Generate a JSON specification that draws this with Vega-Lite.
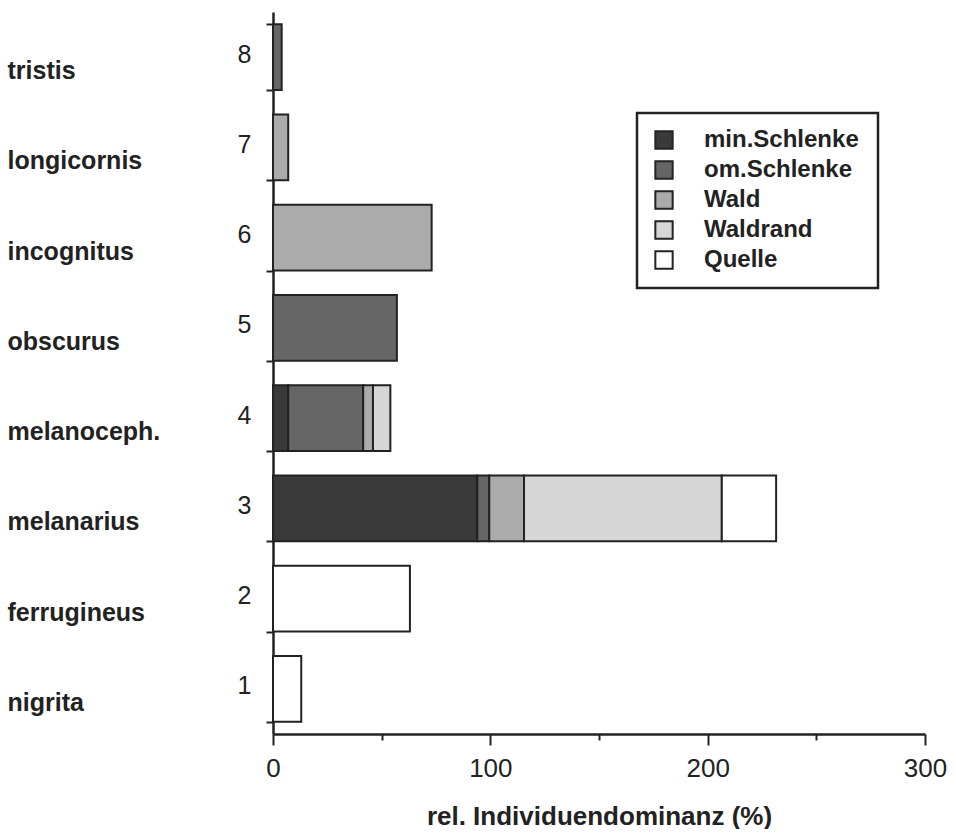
{
  "$schema": "https://vega.github.io/schema/vega-lite/v6.json",
  "width": 652,
  "height": 722,
  "padding": {"left": 7, "top": 0, "right": 5, "bottom": 0},
  "background": "white",
  "config": {
    "font": "Liberation Sans",
    "view": {"stroke": null},
    "axis": {"domainColor": "#222", "tickColor": "#222", "labelColor": "#222", "titleColor": "#222", "grid": false},
    "legend": {"strokeWidth": 2.5}
  },
  "data": {
    "values": [
      {"idx": 8, "species": "tristis", "habitat": "om.Schlenke", "ord": 2, "value": 4},
      {"idx": 7, "species": "longicornis", "habitat": "Wald", "ord": 3, "value": 7},
      {"idx": 6, "species": "incognitus", "habitat": "Wald", "ord": 3, "value": 73},
      {"idx": 5, "species": "obscurus", "habitat": "om.Schlenke", "ord": 2, "value": 57},
      {"idx": 4, "species": "melanoceph.", "habitat": "min.Schlenke", "ord": 1, "value": 7},
      {"idx": 4, "species": "melanoceph.", "habitat": "om.Schlenke", "ord": 2, "value": 34.5},
      {"idx": 4, "species": "melanoceph.", "habitat": "Wald", "ord": 3, "value": 4.5},
      {"idx": 4, "species": "melanoceph.", "habitat": "Waldrand", "ord": 4, "value": 8},
      {"idx": 3, "species": "melanarius", "habitat": "min.Schlenke", "ord": 1, "value": 94},
      {"idx": 3, "species": "melanarius", "habitat": "om.Schlenke", "ord": 2, "value": 5.5},
      {"idx": 3, "species": "melanarius", "habitat": "Wald", "ord": 3, "value": 16},
      {"idx": 3, "species": "melanarius", "habitat": "Waldrand", "ord": 4, "value": 91},
      {"idx": 3, "species": "melanarius", "habitat": "Quelle", "ord": 5, "value": 25},
      {"idx": 2, "species": "ferrugineus", "habitat": "Quelle", "ord": 5, "value": 63},
      {"idx": 1, "species": "nigrita", "habitat": "Quelle", "ord": 5, "value": 13}
    ]
  },
  "resolve": {"axis": {"y": "independent"}},
  "layer": [
    {
      "mark": {"type": "bar", "stroke": "#222", "strokeWidth": 2},
      "encoding": {
        "y": {
          "field": "idx", "type": "ordinal", "sort": "descending",
          "scale": {"paddingInner": 0.27, "paddingOuter": 0.135},
          "axis": {
            "orient": "left",
            "title": null, "tickBand": "extent", "tickSize": 7, "tickWidth": 2, "domainWidth": 2.5,
            "labelFontSize": 25, "labelPadding": 15, "labelAngle": 0, "labelOffset": -3
          }
        },
        "x": {
          "field": "value", "type": "quantitative", "stack": "zero",
          "scale": {"domain": [0, 300], "nice": false},
          "axis": {
            "title": "rel. Individuendominanz (%)",
            "values": [0, 50, 100, 150, 200, 250, 300],
            "labelExpr": "datum.value % 100 === 0 ? datum.label : ''",
            "tickSize": {"condition": {"test": "datum.value % 100 === 0", "value": 11}, "value": 6},
            "tickWidth": 2, "domainWidth": 2.5,
            "labelFontSize": 26, "labelPadding": 10, "labelFlush": false,
            "titleFontSize": 26, "titleFontWeight": "bold", "titlePadding": 22
          }
        },
        "order": {"field": "ord", "type": "quantitative"},
        "fill": {
          "field": "habitat", "type": "nominal",
          "scale": {
            "domain": ["min.Schlenke", "om.Schlenke", "Wald", "Waldrand", "Quelle"],
            "range": ["#3a3a3a", "#666666", "#ababab", "#d6d6d6", "#ffffff"]
          },
          "legend": {
            "title": "\u00a0\u00a0\u00a0\u00a0\u00a0\u00a0\u00a0\u00a0", "titleOrient": "right", "titleFontSize": 24, "titlePadding": 4,
            "orient": "none", "legendX": 364, "legendY": 101,
            "strokeColor": "#222", "fillColor": "white", "padding": 15,
            "symbolType": "square", "symbolSize": 300, "symbolStrokeColor": "#222", "symbolStrokeWidth": 2,
            "labelFontSize": 24, "labelFont": "Liberation Sans", "labelFontWeight": "bold", "labelColor": "#222",
            "labelOffset": 28, "rowPadding": 4, "labelLimit": 300
          }
        }
      }
    },
    {
      "mark": {"type": "point", "opacity": 0},
      "encoding": {
        "y": {
          "field": "idx", "type": "ordinal", "sort": "descending",
          "axis": {
            "orient": "left",
            "title": null, "domain": false, "ticks": false, "tickSize": 0,
            "labelAlign": "left", "labelPadding": 266, "labelOffset": 14,
            "labelFontSize": 25, "labelFontWeight": "bold", "labelAngle": 0,
            "labelExpr": "['', 'nigrita', 'ferrugineus', 'melanarius', 'melanoceph.', 'obscurus', 'incognitus', 'longicornis', 'tristis'][datum.value]"
          }
        },
        "x": {"datum": 0, "type": "quantitative"}
      }
    }
  ]
}
